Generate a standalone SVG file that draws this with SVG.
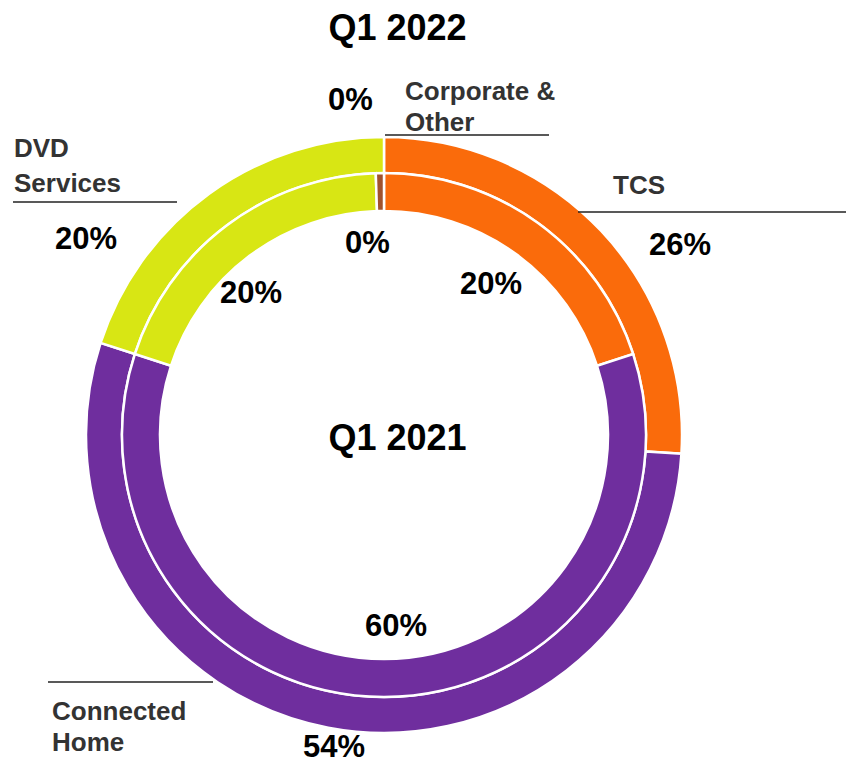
<svg xmlns="http://www.w3.org/2000/svg" width="846" height="764" viewBox="0 0 846 764">
<style>
.seg{stroke:#fff;stroke-width:2.5;stroke-linejoin:miter}
.tcs{fill:#FA6B0B}
.ch{fill:#6F2E9E}
.dvd{fill:#D8E614}
.corp{fill:#A0522D}
.title{font-family:"Liberation Sans",Arial,sans-serif;font-weight:bold;font-size:36px;fill:#000}
.lbl{font-family:"Liberation Sans",Arial,sans-serif;font-weight:bold;font-size:26px;fill:#333}
.pct{font-family:"Liberation Sans",Arial,sans-serif;font-weight:bold;font-size:31px;fill:#000}
.lead{stroke:#222;stroke-width:1.6;fill:none}
</style>
<rect width="846" height="764" fill="#fff"/>
<g id="outer-ring">
<g id="outer-tcs"><path class="seg tcs" d="M384,137 A298,298 0 0 1 681.41,453.71 L645.48,451.45 A262,262 0 0 0 384,173 Z"/></g>
<g id="outer-connected-home"><path class="seg ch" d="M681.41,453.71 A298,298 0 1 1 100.58,342.91 L134.82,354.04 A262,262 0 1 0 645.48,451.45 Z"/></g>
<g id="outer-dvd"><path class="seg dvd" d="M100.58,342.91 A298,298 0 0 1 384,137 L384,173 A262,262 0 0 0 134.82,354.04 Z"/></g>
</g>
<g id="inner-ring">
<g id="inner-tcs"><path class="seg tcs" d="M384,173 A262,262 0 0 1 633.18,354.04 L597.04,365.78 A224,224 0 0 0 384,211 Z"/></g>
<g id="inner-connected-home"><path class="seg ch" d="M633.18,354.04 A262,262 0 1 1 134.82,354.04 L170.96,365.78 A224,224 0 1 0 597.04,365.78 Z"/></g>
<g id="inner-dvd"><path class="seg dvd" d="M134.82,354.04 A262,262 0 0 1 375.77,173.13 L376.96,211.11 A224,224 0 0 0 170.96,365.78 Z"/></g>
<g id="inner-corporate"><path class="seg corp" d="M375.77,173.13 A262,262 0 0 1 384,173 L384,211 A224,224 0 0 0 376.96,211.11 Z"/></g>
</g>
<g id="connectors">
<line class="lead" x1="385" y1="135" x2="549" y2="135"/>
<line class="lead" x1="578" y1="212" x2="846" y2="212"/>
<line class="lead" x1="13" y1="202" x2="177" y2="202"/>
<line class="lead" x1="48" y1="682" x2="213" y2="682"/>
</g>
<g id="title-2022"><text class="title" x="397.5" y="40" text-anchor="middle">Q1 2022</text></g>
<g id="title-2021"><text class="title" x="397.5" y="450" text-anchor="middle">Q1 2021</text></g>
<g id="label-corporate">
<text class="lbl" x="405" y="100">Corporate &amp;</text>
<text class="lbl" x="405" y="131">Other</text>
<text class="pct" x="328" y="110">0%</text>
<text class="pct" x="345" y="253">0%</text>
</g>
<g id="label-tcs">
<text class="lbl" x="613" y="194">TCS</text>
<text class="pct" x="649" y="255">26%</text>
<text class="pct" x="460" y="294">20%</text>
</g>
<g id="label-dvd">
<text class="lbl" x="14" y="157">DVD</text>
<text class="lbl" x="14" y="192">Services</text>
<text class="pct" x="55" y="249">20%</text>
<text class="pct" x="220" y="303">20%</text>
</g>
<g id="label-connected-home">
<text class="lbl" x="52" y="720">Connected</text>
<text class="lbl" x="52" y="751">Home</text>
<text class="pct" x="303" y="757">54%</text>
<text class="pct" x="365" y="636">60%</text>
</g>
</svg>
